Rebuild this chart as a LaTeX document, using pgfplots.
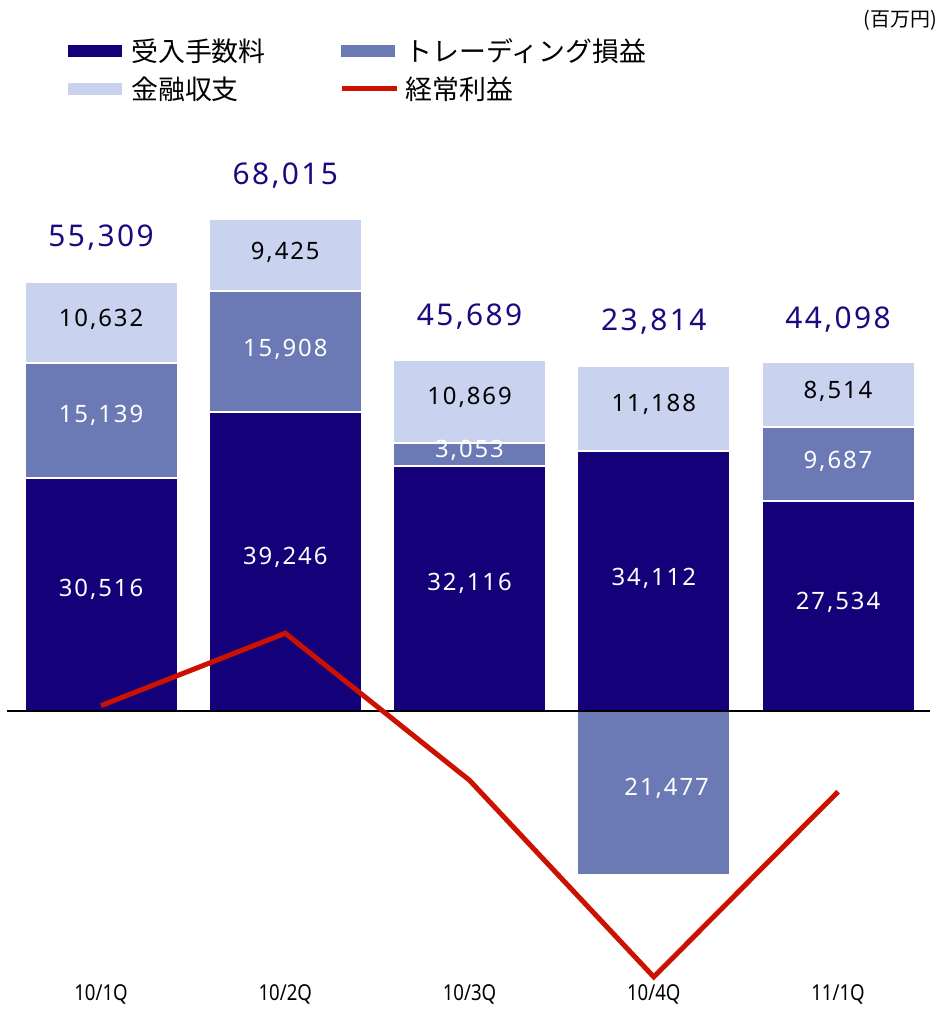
\documentclass[border=0pt]{standalone}
\usepackage{fontspec}
\setmainfont{Noto Sans}
\newfontfamily\cjk{Noto Sans CJK JP}
\newfontfamily\numfont{Noto Sans}[LetterSpace=8]
\newfontfamily\catfont{Noto Sans}[FakeStretch=0.85]
\usepackage{pgfplots}
\usepackage{pgfplotstable}
\pgfplotsset{compat=1.18}
\definecolor{navy}{RGB}{20,0,120}
\definecolor{midblue}{RGB}{107,121,181}
\definecolor{lightblue}{RGB}{201,210,238}
\definecolor{redline}{RGB}{204,17,0}
\definecolor{totalc}{RGB}{26,10,128}

\pgfplotstableread{
x fee trading fin ord
0 30516 15139 10632 700
1 39246 15908 9425 10200
2 32116 3053 10869 -9100
3 34112 -21477 11188 -34900
4 27534 9687 8514 -10600
}\datatable

\pgfplotsset{common/.style={
  scale only axis, width=921.25bp, height=823bp,
  xmin=-0.5, xmax=4.5, ymin=-36000, ymax=72000,
  at={(8.9bp,23.7bp)}, anchor=south west,
  axis line style={draw=none}, major tick length=0pt,
  ytick=\empty, clip=false}}

\newcommand{\lab}[4]{\node[font=\numfont\fontsize{24}{24}\selectfont, text=#4] at (axis cs:#1,#2) {#3};}
\newcommand{\tot}[3]{\node[font=\numfont\fontsize{30}{30}\selectfont, text=totalc] at (axis cs:#1,#2) {#3};}

\begin{document}
\begin{tikzpicture}
\useasboundingbox (0,0) rectangle (937bp,1009bp);
\begin{axis}[common, ybar stacked, bar width=153bp,
  xtick={0,1,2,3,4}, xticklabels={10/1Q,10/2Q,10/3Q,10/4Q,11/1Q},
  xticklabel style={font=\catfont\fontsize{22}{22}\selectfont, text=black, inner sep=0pt, anchor=center, yshift=-9bp},
  legend columns=2, legend cell align=left,
  legend style={draw=none, fill=none, at={(axis description cs:0.061,1.1555)}, anchor=north west,
    font=\cjk\fontsize{27}{27}\selectfont,
    /tikz/every even column/.append style={column sep=72bp}, row sep=10bp}]
\addplot[fill=navy, draw=white, line width=2bp,
  legend image code/.code={\fill[navy] (0bp,-5bp) rectangle (52bp,5bp); \path (59bp,0bp);}]
  table[x=x,y=fee]{\datatable};
\addplot[fill=midblue, draw=white, line width=2bp,
  legend image code/.code={\fill[midblue] (0bp,-5bp) rectangle (52bp,5bp); \path (59bp,0bp);}]
  table[x=x,y expr={max(\thisrow{trading},0)}]{\datatable};
\addplot[fill=lightblue, draw=white, line width=2bp,
  legend image code/.code={\fill[lightblue] (0bp,-5bp) rectangle (52bp,5bp); \path (59bp,0bp);}]
  table[x=x,y=fin]{\datatable};
\addlegendimage{redline, line width=5bp, legend image code/.code={\draw[redline, line width=5bp] (0bp,0bp) -- (55bp,0bp); \path (59bp,0bp);}}
\addlegendentry{受入手数料}
\addlegendentry{トレーディング損益}
\addlegendentry{金融収支}
\addlegendentry{経常利益}
\end{axis}
\begin{axis}[common, xtick=\empty]
\addplot[ybar, bar width=153bp, fill=midblue, draw=white, line width=2bp]
  table[x=x,y expr={min(\thisrow{trading},0)}]{\datatable};
\addplot[black, line width=1.8bp] coordinates {(-0.51,0) (4.5,0)};
\addplot[redline, line width=5bp, mark=none] table[x=x,y=ord]{\datatable};
% segment labels
\lab{0}{15900}{30,516}{white}
\lab{0}{38800}{15,139}{white}
\lab{0}{51400}{10,632}{black}
\tot{0}{62100}{55,309}
\lab{1}{20200}{39,246}{white}
\lab{1}{47500}{15,908}{white}
\lab{1}{60200}{9,425}{black}
\tot{1}{70200}{68,015}
\lab{2}{16800}{32,116}{white}
\lab{2}{34250}{3,053}{white}
\lab{2}{41100}{10,869}{black}
\tot{2}{51800}{45,689}
\lab{3}{17450}{34,112}{white}
\lab{3}{40200}{11,188}{black}
\lab{3.07}{-10100}{21,477}{white}
\tot{3}{51050}{23,814}
\lab{4}{14200}{27,534}{white}
\lab{4}{32800}{9,687}{white}
\lab{4}{41900}{8,514}{black}
\tot{4}{51300}{44,098}
\node[anchor=east, font=\cjk\fontsize{20}{20}\selectfont, inner sep=0pt] at (axis description cs:1.0074,1.1729) {(百万円)};
\end{axis}
\end{tikzpicture}
\end{document}
